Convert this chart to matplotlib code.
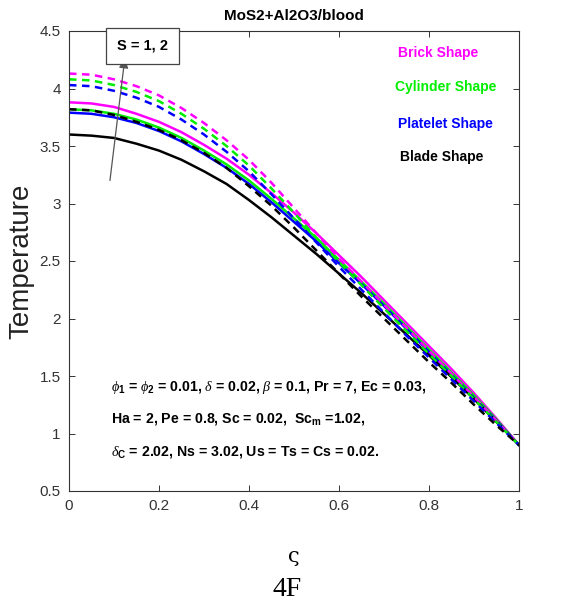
import matplotlib
matplotlib.use("Agg")
import matplotlib.pyplot as plt

# ---- data ----
zeta = [0.00, 0.05, 0.10, 0.15, 0.20, 0.25, 0.30, 0.35, 0.40, 0.45, 0.50,
        0.55, 0.60, 0.65, 0.70, 0.75, 0.80, 0.85, 0.90, 0.95, 1.00]

# S = 1 (solid)
brick_s1 = [3.88, 3.87, 3.84, 3.78, 3.71, 3.62, 3.51, 3.39, 3.25, 3.09, 2.92,
            2.74, 2.55, 2.36, 2.16, 1.96, 1.76, 1.56, 1.35, 1.13, 0.90]
cylinder_s1 = [3.82, 3.81, 3.78, 3.73, 3.66, 3.57, 3.46, 3.34, 3.20, 3.04, 2.87,
               2.70, 2.51, 2.32, 2.13, 1.93, 1.73, 1.53, 1.33, 1.12, 0.90]
platelet_s1 = [3.79, 3.78, 3.75, 3.70, 3.63, 3.54, 3.43, 3.31, 3.17, 3.01, 2.84,
               2.67, 2.48, 2.30, 2.11, 1.91, 1.71, 1.51, 1.31, 1.11, 0.90]
blade_s1 = [3.60, 3.59, 3.57, 3.52, 3.46, 3.38, 3.28, 3.17, 3.03, 2.88, 2.72,
            2.56, 2.39, 2.22, 2.04, 1.86, 1.68, 1.49, 1.30, 1.10, 0.90]

# S = 2 (dashed)
brick_s2 = [4.13, 4.12, 4.08, 4.02, 3.94, 3.83, 3.70, 3.55, 3.38, 3.18, 2.96,
            2.74, 2.52, 2.32, 2.12, 1.92, 1.72, 1.52, 1.32, 1.11, 0.90]
cylinder_s2 = [4.08, 4.07, 4.03, 3.97, 3.89, 3.78, 3.65, 3.50, 3.33, 3.13, 2.92,
               2.70, 2.49, 2.29, 2.09, 1.89, 1.69, 1.50, 1.30, 1.10, 0.90]
platelet_s2 = [4.03, 4.02, 3.98, 3.92, 3.84, 3.73, 3.60, 3.45, 3.28, 3.08, 2.87,
               2.66, 2.45, 2.25, 2.05, 1.85, 1.66, 1.47, 1.28, 1.09, 0.90]
blade_s2 = [3.82, 3.81, 3.77, 3.71, 3.64, 3.55, 3.44, 3.31, 3.15, 2.98, 2.79,
            2.59, 2.39, 2.19, 2.00, 1.81, 1.62, 1.44, 1.25, 1.07, 0.90]

shape_names = ["Brick Shape", "Cylinder Shape", "Platelet Shape", "Blade Shape"]
x_ticks = [0, 0.2, 0.4, 0.6, 0.8, 1]
x_ticklabels = ["0", "0.2", "0.4", "0.6", "0.8", "1"]
y_ticks = [0.5, 1, 1.5, 2, 2.5, 3, 3.5, 4, 4.5]
y_ticklabels = ["0.5", "1", "1.5", "2", "2.5", "3", "3.5", "4", "4.5"]

colors = ["#ff00ff", "#00ee00", "#0000ff", "#000000"]

plt.rcParams["font.family"] = ["Liberation Sans", "DejaVu Sans"]
plt.rcParams["mathtext.fontset"] = "custom"
plt.rcParams["mathtext.rm"] = "Liberation Sans:bold"
plt.rcParams["mathtext.bf"] = "Liberation Sans:bold"
plt.rcParams["mathtext.it"] = "Liberation Serif:italic"

W, H = 563, 605
L, R, T, B = 69, 519, 31, 491
fig = plt.figure(figsize=(W / 100, H / 100), dpi=100)
ax = fig.add_axes([L / W, 1 - B / H, (R - L) / W, (B - T) / H])

s1 = [brick_s1, cylinder_s1, platelet_s1, blade_s1]
s2 = [brick_s2, cylinder_s2, platelet_s2, blade_s2]
for ys, c in zip(s1, colors):
    ax.plot(zeta, ys, color=c, lw=1.8)
for ys, c in zip(s2, colors):
    ax.plot(zeta, ys, color=c, lw=1.8, ls=(0, (3, 2.2)))

ax.set_xlim(0, 1)
ax.set_ylim(0.5, 4.5)
ax.set_xticks(x_ticks)
ax.set_xticklabels(x_ticklabels)
ax.set_yticks(y_ticks)
ax.set_yticklabels(y_ticklabels)
ax.tick_params(direction="in", top=True, right=True, labelsize=11,
               colors="#333333", length=4, width=0.7, pad=6)
for sp in ax.spines.values():
    sp.set_color("#333333")
    sp.set_linewidth(0.8)

ax.set_title("MoS2+Al2O3/blood", fontsize=11, fontweight="bold", pad=8)
ax.set_ylabel("Temperature", fontsize=20, color="#222222", labelpad=4)

# legend as coloured text
legend_x = [0.731, 0.724, 0.731, 0.736]
legend_y = [4.31, 4.01, 3.69, 3.40]
for name, c, xx, yy in zip(shape_names, colors, legend_x, legend_y):
    ax.text(xx, yy, name, color=c, fontsize=10, fontweight="bold", ha="left", va="center")

# S annotation: arrow + boxed label
ax.annotate("", xy=(0.124, 4.26), xytext=(0.091, 3.20),
            arrowprops=dict(arrowstyle="-|>", color="#555555", lw=0.9,
                            mutation_scale=14, shrinkA=0, shrinkB=0))
ax.text(0.163, 4.37, "S = 1, 2", fontsize=10.5, fontweight="bold", ha="center", va="center",
        bbox=dict(boxstyle="square,pad=0.75", fc="white", ec="#444444", lw=0.9))

params = [
    r"$\phi_{1}$ = $\phi_{2}$ = 0.01, $\delta$ = 0.02, $\beta$ = 0.1, Pr = 7, Ec = 0.03,",
    r"Ha = 2, Pe = 0.8, Sc = 0.02,  Sc$_{\mathrm{m}}$ =1.02,",
    r"$\delta_{\mathrm{C}}$ = 2.02, Ns = 3.02, Us = Ts = Cs = 0.02.",
]
for line, yy in zip(params, [1.40, 1.13, 0.84]):
    ax.text(0.093, yy, line, fontsize=10.2, fontweight="bold", ha="left", va="center")

xc = 0.5 * (L + R) / W
fig.text(xc, 1 - 556 / H, "ς", fontsize=15, ha="center", va="center", family="DejaVu Serif")
fig.text(xc - 0.012, 1 - 590 / H, "4F", fontsize=20, ha="center", va="center",
         family="Liberation Serif")

fig.savefig("out.png", dpi=100)
